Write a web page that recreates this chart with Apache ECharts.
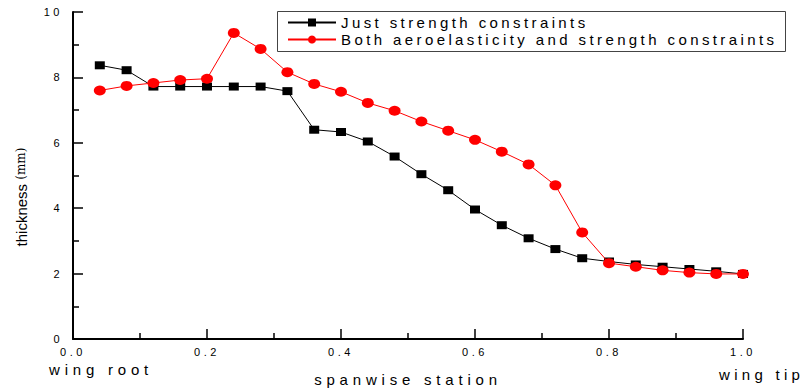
<!DOCTYPE html>
<html>
<head>
<meta charset="utf-8">
<script src="https://cdn.jsdelivr.net/npm/echarts@6/dist/echarts.min.js"></script>
<style>
html,body{margin:0;padding:0;background:#fff;}
#c{width:803px;height:392px;}
</style>
</head>
<body>
<div id="c"></div>
<script>
// Data
const stations = [0.04,0.08,0.12,0.16,0.20,0.24,0.28,0.32,0.36,0.40,0.44,0.48,0.52,0.56,0.60,0.64,0.68,0.72,0.76,0.80,0.84,0.88,0.92,0.96,1.00];
const justStrength = [8.37,8.22,7.72,7.72,7.72,7.72,7.72,7.58,6.40,6.33,6.04,5.58,5.04,4.55,3.96,3.48,3.08,2.75,2.47,2.37,2.28,2.21,2.14,2.07,1.99];
const bothConstraints = [7.60,7.74,7.83,7.92,7.96,9.36,8.87,8.16,7.80,7.56,7.22,6.98,6.65,6.37,6.09,5.73,5.34,4.70,3.26,2.32,2.21,2.10,2.03,1.99,1.99];
const seriesNames = ['Just strength constraints','Both aeroelasticity and strength constraints'];
const xTitle = 'spanwise station';
const yTitle = 'thickness';
const yUnit = '(mm)';
const rootLabel = 'wing root';
const tipLabel = 'wing tip';

const FONT = 'Liberation Sans, Arial, sans-serif';
const pairs = (xs, ys) => xs.map((x, i) => [x, ys[i]]);

const chart = echarts.init(document.getElementById('c'), null, {renderer: 'svg'});
const option = {
  animation: false,
  backgroundColor: '#fff',
  grid: {left: 73, right: 60, top: 12, bottom: 52, containLabel: false},
  xAxis: {
    type: 'value', min: 0, max: 1, interval: 0.2,
    name: xTitle, nameLocation: 'middle', nameGap: 33,
    nameTextStyle: {fontFamily: FONT, fontSize: 15, color: '#000'},
    axisLine: {show: true, lineStyle: {color: '#000', width: 2}},
    axisTick: {show: true, inside: true, length: 10, lineStyle: {color: '#000', width: 1.5}},
    minorTick: {show: true, splitNumber: 2, length: 6, lineStyle: {color: '#000', width: 1.5}},
    splitLine: {show: false},
    axisLabel: {fontFamily: FONT, fontSize: 11, color: '#000', margin: 7,
      formatter: v => v.toFixed(1)}
  },
  yAxis: {
    type: 'value', min: 0, max: 10, interval: 2,
    axisLine: {show: true, lineStyle: {color: '#000', width: 2}},
    axisTick: {show: true, inside: true, length: 10, lineStyle: {color: '#000', width: 1.5}},
    minorTick: {show: true, splitNumber: 2, length: 6, lineStyle: {color: '#000', width: 1.5}},
    splitLine: {show: false},
    axisLabel: {fontFamily: FONT, fontSize: 11, color: '#000', margin: 10}
  },
  legend: {
    orient: 'vertical', left: 282, top: 10,
    itemWidth: 48, itemHeight: 10, itemGap: 2,
    textStyle: {fontFamily: FONT, fontSize: 15, color: '#000'},
    data: seriesNames
  },
  graphic: [
    {type: 'rect', left: 275, top: 9, shape: {width: 508, height: 40},
     style: {fill: 'none', stroke: '#444', lineWidth: 1}, z: 0},
    {type: 'text', x: 49, y: 369,
     style: {text: rootLabel, font: '15px ' + FONT, fill: '#000', align: 'left', verticalAlign: 'middle'}},
    {type: 'text', x: 719, y: 374,
     style: {text: tipLabel, font: '15px ' + FONT, fill: '#000', align: 'left', verticalAlign: 'middle'}},
    {type: 'text', x: 21, y: 197, rotation: Math.PI / 2,
     style: {
       text: yTitle + ' {u|' + yUnit + '}',
       font: '15px ' + FONT, fill: '#000', align: 'center', verticalAlign: 'middle',
       rich: {u: {fontFamily: 'DejaVu Serif, serif', fontSize: 12, fill: '#000'}}
     }}
  ],
  series: [
    {
      name: seriesNames[0], type: 'line', data: pairs(stations, justStrength),
      symbol: 'rect', symbolSize: [10, 8], showAllSymbol: true,
      lineStyle: {color: '#000', width: 1}, itemStyle: {color: '#000'}, z: 2
    },
    {
      name: seriesNames[1], type: 'line', data: pairs(stations, bothConstraints),
      symbol: 'circle', symbolSize: [12, 10], showAllSymbol: true,
      lineStyle: {color: '#ff0000', width: 1}, itemStyle: {color: '#ff0000'}, z: 3
    }
  ]
};
chart.setOption(option);

function applySpacing() {
  document.querySelectorAll('#c text').forEach(t => {
    const s = t.textContent.trim();
    let ls = null;
    if (s === seriesNames[0] || s === seriesNames[1]) ls = 3.4;
    else if (s === rootLabel || s === xTitle) ls = 4.8;
    else if (s === tipLabel) ls = 4.3;
    else if (/^[0-9.]+$/.test(s)) ls = 3.5;
    if (ls !== null) t.style.letterSpacing = ls + 'px';
  });
}
applySpacing();
chart.on('finished', applySpacing);
</script>
</body>
</html>
